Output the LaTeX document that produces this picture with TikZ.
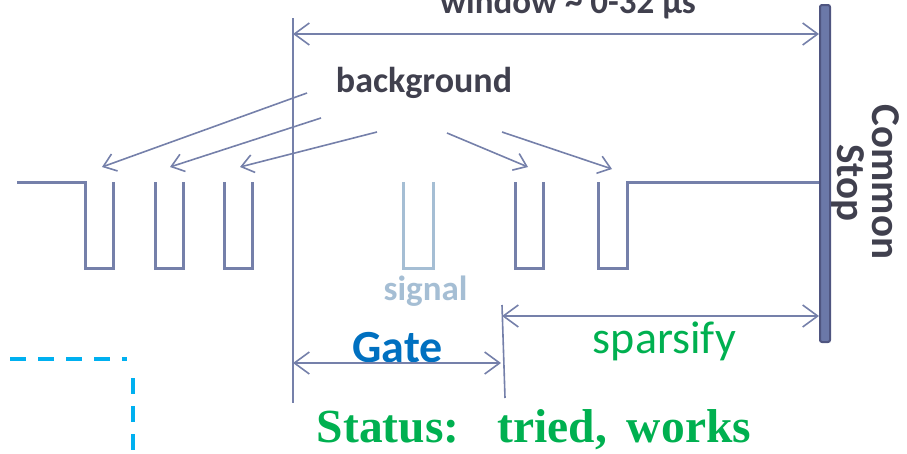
\documentclass[tikz,border=0pt]{standalone}
\usepackage{fontspec}
\setmainfont{Liberation Serif}
\newfontfamily\calibri{Carlito}
\usetikzlibrary{arrows.meta,positioning}

\definecolor{linecol}{HTML}{7580AA}
\definecolor{barfill}{HTML}{6B78A8}
\definecolor{bardraw}{HTML}{4F5580}
\definecolor{darktext}{HTML}{40404E}
\definecolor{sigcol}{HTML}{A5BED4}
\definecolor{gatecol}{HTML}{0070C0}
\definecolor{greencol}{HTML}{00B050}
\definecolor{cyancol}{HTML}{00B0F0}

\begin{document}
\begin{tikzpicture}[x=1pt,y=-1pt]
	\tikzset{
		lbl/.style={inner sep=0pt,anchor=base,font=\calibri\bfseries\fontsize{#1}{#1}\selectfont},
		dimline/.style={draw=linecol,line width=1.6pt},
		dimarrow/.style={dimline,{Straight Barb[length=15pt,width=22pt]}-{Straight Barb[length=15pt,width=22pt]}},
		bgarrow/.style={dimline,-{Straight Barb[length=12pt,width=18pt]}},
		pulse/.style={draw=linecol,line width=3pt},
		sigpulse/.style={draw=sigcol,line width=3pt},
		cutline/.style={draw=cyancol,line width=4pt,dash pattern=on 16pt off 12pt}
	}
	\useasboundingbox (0,0) rectangle (907,453);

	%% labels
	\node[lbl=35,text=darktext] (window) at (568,13.5) {window \textasciitilde{} 0-32 µs};
	\node[lbl=36,text=darktext] (bg) at (424,92) {background};
	\node[lbl=35,text=sigcol] (signal) at (425.5,300) {signal};
	\node[lbl=46,text=gatecol] (gate) at (397.5,362) {Gate};
	\node[lbl=46,text=greencol,font=\calibri\fontsize{46}{46}\selectfont] (sparsify) at (664.5,353) {sparsify};
	\node[inner sep=0pt,anchor=base,text=greencol,font=\bfseries\fontsize{47.5}{47.5}\selectfont] (status) at (534,442) {Status:\hspace{38pt}tried,\hspace{20pt}works};
	\node[lbl=41,text=darktext,rotate=-90] (common) at (872,182) {Common};
	\node[lbl=41,text=darktext,rotate=-90] (stop) at (837,183) {Stop};

	%% common stop bar
	\node[draw=bardraw,fill=barfill,line width=2pt,rounded corners=2pt,minimum width=10pt,minimum height=337pt,inner sep=0pt] (stopbar) at (825,173.5) {};

	%% dimension lines
	\coordinate (wl) at (293,34);
	\coordinate (wr) at (stopbar.west |- wl);
	\coordinate (gl) at (293,363);
	\coordinate (gr) at (501,363);
	\coordinate (sl) at (502,316);
	\coordinate (sr) at (stopbar.west |- sl);
	\draw[dimline] (293,18) -- (293,403);
	\draw[dimline] (502,305) -- (505,398);
	\draw[dimarrow] (wl) -- (wr);
	\draw[dimarrow] (gl) -- (gr);
	\draw[dimarrow] (sl) -- (sr);

	%% pulse train
	\draw[pulse] (17,182) -- (85,182) -- (85,268) -- (113,268) -- (113,182);
	\draw[pulse] (155,182) -- (155,268) -- (183,268) -- (183,182);
	\draw[pulse] (224,182) -- (224,268) -- (252,268) -- (252,182);
	\draw[sigpulse] (403,182) -- (403,268) -- (433,268) -- (433,182);
	\draw[pulse] (515,182) -- (515,268) -- (543,268) -- (543,182);
	\draw[pulse] (598,182) -- (598,268) -- (627,268) -- (627,182) -- (stopbar.west |- 0,182);

	%% background arrows
	\coordinate (b1) at (307,93);  \coordinate (p1) at (102,167);
	\coordinate (b2) at (321,118); \coordinate (p2) at (170,167);
	\coordinate (b3) at (377,132); \coordinate (p3) at (240,167);
	\coordinate (b4) at (447,133); \coordinate (p4) at (528,167);
	\coordinate (b5) at (502,132); \coordinate (p5) at (612,169);
	\foreach \i in {1,...,5}
		\draw[bgarrow] (b\i) -- (p\i);

	%% dashed corner
	\draw[cutline] (10,359) -- (127,359);
	\draw[cutline] (133,378) -- (133,460);
\end{tikzpicture}
\end{document}
